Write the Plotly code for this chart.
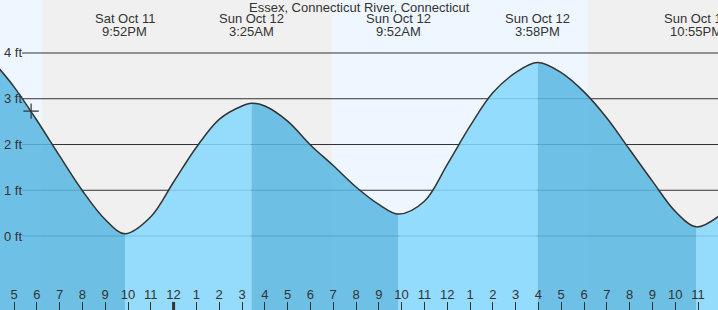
import plotly.graph_objects as go

# ---- data (hours since Sat Oct 11 00:00, heights in ft) ----
times = [16.35, 17, 18, 19, 20, 21, 21.867, 23, 24, 25, 26, 27, 27.417, 28, 29, 30, 31,
         32, 33, 33.867, 35, 36, 37, 38, 39, 39.967, 41, 42, 43, 44, 45, 46, 46.917,
         47.9]
heights = [3.66, 3.26, 2.53, 1.75, 0.99, 0.36, 0.05, 0.42, 1.18, 1.94, 2.55, 2.84, 2.90,
           2.84, 2.51, 1.99, 1.54, 1.07, 0.69, 0.48, 0.76, 1.56, 2.40, 3.13, 3.57, 3.79,
           3.57, 3.15, 2.58, 1.89, 1.20, 0.54, 0.20, 0.43]

event_times = [21.867, 27.417, 33.867, 39.967, 46.917]
event_dates = ["Sat Oct 11", "Sun Oct 12", "Sun Oct 12", "Sun Oct 12", "Sun Oct 12"]
event_clock = ["9:52PM", "3:25AM", "9:52AM", "3:58PM", "10:55PM"]
first_is_falling = True

sun_events = [18.23, 30.93, 42.17]   # sunset, sunrise, sunset

tick_hours = list(range(17, 49))
tick_labels = ["5", "6", "7", "8", "9", "10", "11", "12", "1", "2", "3", "4", "5", "6", "7",
               "8", "9", "10", "11", "12", "1", "2", "3", "4", "5", "6", "7", "8", "9", "10",
               "11", "12"]
y_levels = [0, 1, 2, 3, 4]
y_level_labels = ["0 ft", "1 ft", "2 ft", "3 ft", "4 ft"]

now_time = 17.75
now_height = 2.73

title_text = "Essex, Connecticut River, Connecticut"

# ---- style ----
X_RANGE = [16.386, 47.877]
Y_RANGE = [-1.617, 5.158]
W, H = 718, 310
FONT = "Liberation Sans, Arial, sans-serif"
TXT = "#333333"
DARK_FILL = "rgba(89,183,226,0.86)"
LIGHT_FILL = "rgba(133,215,254,0.86)"
DAY_BG = "#eef7ff"
NIGHT_BG = "#f0f0f0"
SPAN = X_RANGE[1] - X_RANGE[0]

fig = go.Figure()
layout_axes = {}

# each rising/falling segment gets its own x axis whose domain covers exactly that
# span of the main scale, so the (shared, smooth) curve fill is clipped to it
bounds = [X_RANGE[0]] + event_times + [X_RANGE[1]]
n_seg = len(bounds) - 1
for i in range(n_seg):
    a, b = bounds[i], bounds[i + 1]
    falling = (i % 2 == 0) == first_is_falling
    ax_id = i + 2
    layout_axes["xaxis%d" % ax_id] = dict(
        domain=[(a - X_RANGE[0]) / SPAN, (b - X_RANGE[0]) / SPAN], range=[a, b],
        anchor="y", visible=False, showgrid=False, zeroline=False, fixedrange=True)
    fig.add_trace(go.Scatter(x=times, y=[Y_RANGE[0] - 1] * len(times), mode="lines",
                             xaxis="x%d" % ax_id, yaxis="y",
                             line=dict(width=0, color="rgba(0,0,0,0)"),
                             hoverinfo="skip", showlegend=False))
    fig.add_trace(go.Scatter(x=times, y=heights, mode="lines", fill="tonexty",
                             xaxis="x%d" % ax_id, yaxis="y",
                             fillcolor=DARK_FILL if falling else LIGHT_FILL,
                             line=dict(width=0, color="rgba(0,0,0,0)", shape="spline"),
                             hoverinfo="skip", showlegend=False))

top_id = n_seg + 2
top_x = "x%d" % top_id
fig.add_trace(go.Scatter(x=times, y=heights, mode="lines", xaxis=top_x, yaxis="y",
                         line=dict(color="#333333", width=1.5, shape="spline"),
                         hoverinfo="skip", showlegend=False))
fig.add_trace(go.Scatter(x=[now_time], y=[now_height], mode="markers", xaxis=top_x, yaxis="y",
                         marker=dict(symbol="cross-thin", size=11,
                                     line=dict(color="#333333", width=1.2)),
                         hoverinfo="skip", showlegend=False))

shapes = []
day_spans = [(X_RANGE[0] - 1, sun_events[0]), (sun_events[1], sun_events[2])]
for a, b in day_spans:
    shapes.append(dict(type="rect", xref="x", yref="paper", x0=a, x1=b, y0=0, y1=1,
                       fillcolor=DAY_BG, line=dict(width=0), layer="below"))
for lv in y_levels:
    shapes.append(dict(type="line", xref="paper", yref="y", x0=22 / W, x1=1, y0=lv, y1=lv,
                       line=dict(color="#333333", width=1), layer="below"))
shapes.append(dict(type="line", xref="x", yref="paper", x0=24, x1=24, y0=0, y1=8 / H,
                   line=dict(color="#333333", width=3), layer="above"))

annotations = []
annotations.append(dict(text=title_text, xref="paper", yref="paper", x=0.5, y=1 - 7.5 / H,
                        xanchor="center", yanchor="middle", showarrow=False,
                        font=dict(family=FONT, size=13, color=TXT)))
for t, d, c in zip(event_times, event_dates, event_clock):
    annotations.append(dict(text=d, xref="x", yref="paper", x=t, y=1 - 19 / H,
                            xanchor="center", yanchor="middle", showarrow=False,
                            font=dict(family=FONT, size=13, color=TXT)))
    annotations.append(dict(text=c, xref="x", yref="paper", x=t, y=1 - 31.5 / H,
                            xanchor="center", yanchor="middle", showarrow=False,
                            font=dict(family=FONT, size=13, color=TXT)))
for lv, lab in zip(y_levels, y_level_labels):
    annotations.append(dict(text=lab, xref="paper", yref="y", x=2 / W, y=lv,
                            xanchor="left", yanchor="middle", showarrow=False,
                            font=dict(family=FONT, size=13, color=TXT)))

layout_axes["xaxis"] = dict(range=X_RANGE, domain=[0, 1], visible=False, showgrid=False,
                            zeroline=False, fixedrange=True)
layout_axes["xaxis%d" % top_id] = dict(
    range=X_RANGE, domain=[0, 1], anchor="y", showgrid=False, zeroline=False, showline=False,
    tickmode="array", tickvals=tick_hours, ticktext=tick_labels,
    ticks="inside", ticklen=8, tickwidth=1, tickcolor="#333333",
    ticklabelposition="inside", layer="above traces",
    tickfont=dict(family=FONT, size=13, color=TXT), fixedrange=True)

fig.update_layout(
    width=W, height=H,
    margin=dict(l=0, r=0, t=0, b=0, pad=0),
    paper_bgcolor=NIGHT_BG, plot_bgcolor="rgba(0,0,0,0)",
    shapes=shapes, annotations=annotations,
    showlegend=False,
    yaxis=dict(range=Y_RANGE, visible=False, showgrid=False, zeroline=False, fixedrange=True),
    **layout_axes,
)

fig.write_html("out.html", config={"displayModeBar": False})
